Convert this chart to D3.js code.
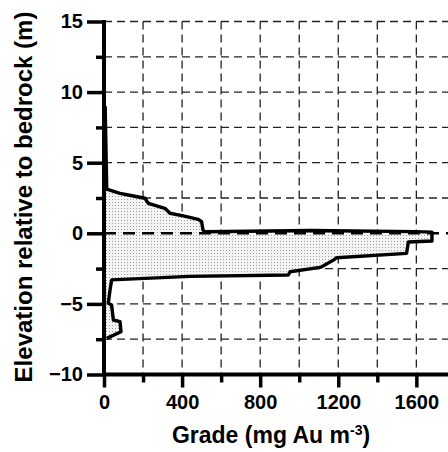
<!DOCTYPE html>
<html>
<head>
<meta charset="utf-8">
<script src="https://cdn.jsdelivr.net/npm/d3@7/dist/d3.min.js"></script>
<style>
  body { margin: 0; background: #fff; }
  text { font-family: "Liberation Sans", Arial, sans-serif; font-weight: bold; fill: #000; }
</style>
</head>
<body>
<script>
// profile: grade (mg Au m-3) at elevation (m)
var elevation = [9.0, 3.12, 2.83, 2.71, 2.48, 2.12, 1.77, 1.42, 1.23, 0.99, 0.82, 0.23, 0.11,
  0.2, 0.12, 0.08, -0.55, -0.62, -1.42, -1.73, -1.9, -2.37, -2.41, -2.72, -2.95, -3.05,
  -3.3, -4.0, -4.96, -5.08, -6.14, -6.26, -6.97, -7.44];
var grade = [6, 14, 82, 124, 210, 227, 312, 338, 406, 483, 500, 507, 517,
  1060, 1600, 1680, 1680, 1559, 1550, 1192, 1175, 1115, 1107, 953, 944, 440,
  39, 31, 22, 39, 48, 82, 87, 14];

var xMajor = [0, 400, 800, 1200, 1600];
var xMinor = [200, 600, 1000, 1400];
var yMajor = [-10, -5, 0, 5, 10, 15];
var yMinor = [-7.5, -2.5, 2.5, 7.5, 12.5];
var xGrid = [200, 400, 600, 800, 1000, 1200, 1400, 1600, 1800];
var yGrid = [-7.5, -5, -2.5, 2.5, 5, 7.5, 10, 12.5, 15];

var W = 448, H = 452;
var x = d3.scaleLinear().domain([0, 1800]).range([104, 455.4]);
var y = d3.scaleLinear().domain([-10, 15]).range([374.5, 21.5]);

var svg = d3.select("body").append("svg").attr("width", W).attr("height", H);

var pat = svg.append("defs").append("pattern")
  .attr("id", "dots").attr("patternUnits", "userSpaceOnUse")
  .attr("width", 3).attr("height", 3);
pat.append("rect").attr("width", 3).attr("height", 3).attr("fill", "#f4f4f4");
pat.append("rect").attr("x", 1).attr("y", 1).attr("width", 1).attr("height", 1).attr("fill", "#a0a0a0");

// grid
svg.selectAll(".vg").data(xGrid).enter().append("line")
  .attr("x1", d => x(d)).attr("x2", d => x(d))
  .attr("y1", y(15)).attr("y2", y(-10))
  .attr("stroke", "#222").attr("stroke-width", 1.3).attr("stroke-dasharray", "8,5");
svg.selectAll(".hg").data(yGrid).enter().append("line")
  .attr("x1", x(0)).attr("x2", W)
  .attr("y1", d => y(d)).attr("y2", d => y(d))
  .attr("stroke", "#222").attr("stroke-width", 1.3).attr("stroke-dasharray", "8,5");

// profile
var pts = grade.map((g, i) => [g, elevation[i]]);
var area = [[0, elevation[0]]].concat(pts, [[0, elevation[elevation.length - 1]]]);
var line = d3.line().x(d => x(d[0])).y(d => y(d[1]));
svg.append("path").attr("d", line(area) + "Z").attr("fill", "url(#dots)");

// zero line
svg.append("line").attr("x1", x(0)).attr("x2", W).attr("y1", y(0)).attr("y2", y(0))
  .attr("stroke", "#000").attr("stroke-width", 2.6).attr("stroke-dasharray", "12,7");

svg.append("path").attr("d", line(pts)).attr("fill", "none")
  .attr("stroke", "#000").attr("stroke-width", 3.4).attr("stroke-linejoin", "round");

// axes
svg.append("g").attr("transform", "translate(" + x(0) + ",0)")
  .call(d3.axisLeft(y).tickValues(yMajor).tickSize(17).tickPadding(4).tickFormat(d3.format("d")));
svg.append("g").attr("transform", "translate(" + x(0) + ",0)")
  .call(d3.axisLeft(y).tickValues(yMinor).tickSize(8).tickFormat(""));
svg.append("g").attr("transform", "translate(0," + y(-10) + ")")
  .call(d3.axisBottom(x).tickValues(xMajor).tickSize(13).tickPadding(7).tickFormat(d3.format("d")));
svg.append("g").attr("transform", "translate(0," + y(-10) + ")")
  .call(d3.axisBottom(x).tickValues(xMinor).tickSize(8).tickFormat(""));

svg.selectAll(".domain").remove();
svg.selectAll(".tick line").attr("stroke", "#000").attr("stroke-width", 3.5);
svg.selectAll(".tick text").style("font-size", "20px").style("font-family", "Liberation Sans, Arial, sans-serif").style("font-weight", "bold");

svg.append("line").attr("x1", x(0)).attr("x2", x(0)).attr("y1", y(15) - 1.5).attr("y2", y(-10) + 2)
  .attr("stroke", "#000").attr("stroke-width", 4);
svg.append("line").attr("x1", x(0) - 2).attr("x2", W).attr("y1", y(-10)).attr("y2", y(-10))
  .attr("stroke", "#000").attr("stroke-width", 4);

// titles
var xt = svg.append("text").attr("x", 271).attr("y", 443).attr("text-anchor", "middle")
  .style("font-size", "23px");
xt.append("tspan").text("Grade (mg Au m");
xt.append("tspan").attr("dy", -8).style("font-size", "14px").text("-3");
xt.append("tspan").attr("dy", 8).text(")");

svg.append("text").attr("transform", "translate(32,197) rotate(-90)")
  .attr("text-anchor", "middle").style("font-size", "24px")
  .text("Elevation relative to bedrock (m)");
</script>
</body>
</html>
